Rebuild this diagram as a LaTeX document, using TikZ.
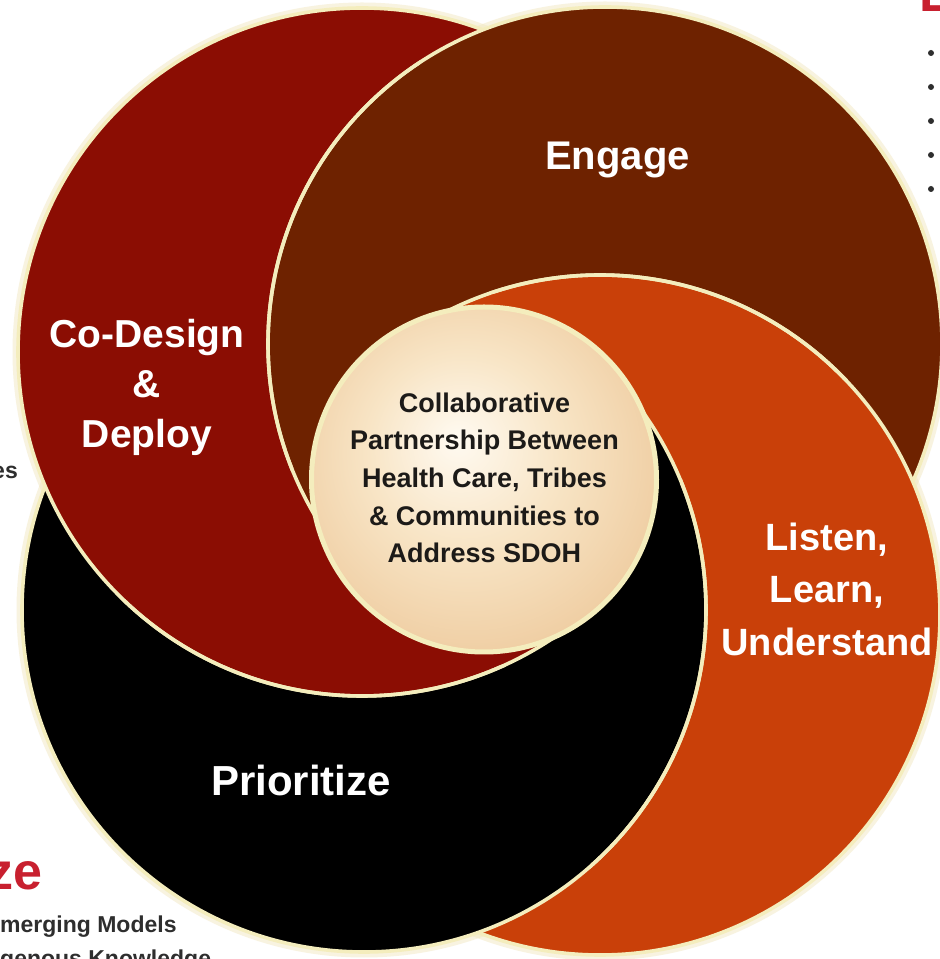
\documentclass[tikz,border=0pt]{standalone}
\usepackage{fontspec}
\setmainfont{Liberation Sans}
\definecolor{petalred}{HTML}{8B0D03}
\definecolor{petalbrown}{HTML}{6E2200}
\definecolor{petalorange}{HTML}{C94009}
\definecolor{petalblack}{HTML}{000000}
\definecolor{rimcream}{HTML}{F4EDBD}
\definecolor{glowcream}{HTML}{F1E6BC}
\definecolor{discA}{HTML}{FFFAF1}
\definecolor{discB}{HTML}{F8E5C6}
\definecolor{discC}{HTML}{EBC291}
\definecolor{discD}{HTML}{D69D5F}
\definecolor{disctextc}{HTML}{1C1A18}
\definecolor{sidegray}{HTML}{2E2E2E}
\definecolor{sidered}{HTML}{C8202F}
\pgfdeclareradialshading{discshade}{\pgfpoint{-4bp}{6bp}}{color(0bp)=(discA); color(14bp)=(discB); color(36bp)=(discC); color(50bp)=(discD)}
\def\cRed{(362,607) circle[radius=344]}
\def\cBrown{(605,615) circle[radius=337]}
\def\cOrange{(600,344) circle[radius=340]}
\def\cBlack{(364,349) circle[radius=342]}
\def\bigRect{(-200,-200) rectangle (1200,1200)}
\def\revRect{(-200,-200) -- (-200,1200) -- (1200,1200) -- (1200,-200) -- cycle}
\tikzset{
  rim/.style={draw=rimcream, line width=3.6pt},
  glow/.style={draw=glowcream, line width=11pt, opacity=0.45},
  petallabel/.style={text=white, inner sep=0pt, anchor=base},
  disctext/.style={text=disctextc, inner sep=0pt, anchor=base, font=\fontsize{27}{32}\selectfont\bfseries},
  sidetext/.style={text=sidegray, inner sep=0pt, font=\fontsize{23}{28}\selectfont\bfseries},
  sideredtext/.style={text=sidered, inner sep=0pt, font=\fontsize{52}{60}\selectfont\bfseries}
}
\begin{document}
\begin{tikzpicture}[x=1pt,y=1pt]
\useasboundingbox (0,0) rectangle (940,959);
\clip (0,0) rectangle (940,959);
\fill[white] (0,0) rectangle (940,959);

% outer glow
\draw[glow] \cRed; \draw[glow] \cBrown; \draw[glow] \cOrange; \draw[glow] \cBlack;

% black petal: black minus (red, left part)
\begin{scope}
  \clip \cBlack;
  \fill[petalblack, even odd rule] \bigRect \cRed;
  \fill[petalblack] (590,-200) rectangle (1200,1200);
\end{scope}
% orange petal: orange minus (black, lower part)
\begin{scope}
  \clip \cOrange;
  \fill[petalorange, even odd rule] \bigRect \cBlack;
  \fill[petalorange] (-200,579) rectangle (1200,1200);
\end{scope}
% brown petal: brown minus (orange, right part)
\begin{scope}
  \clip \cBrown;
  \fill[petalbrown, even odd rule] \bigRect \cOrange;
  \fill[petalbrown] (-200,-200) rectangle (420,1200);
\end{scope}
% red petal: red minus (brown, upper part)
\begin{scope}
  \clip \cRed;
  \fill[petalred, even odd rule] \bigRect \cBrown;
  \fill[petalred] (-200,-200) rectangle (1200,359);
\end{scope}

% cream rims on the visible arcs
\begin{scope}\clip \revRect \cBrown; \draw[rim] \cRed; \end{scope}
\begin{scope}\clip (-200,-200) rectangle (1200,359); \draw[rim] \cRed; \end{scope}
\begin{scope}\clip \revRect \cOrange; \draw[rim] \cBrown; \end{scope}
\begin{scope}\clip (-200,-200) rectangle (420,1200); \draw[rim] \cBrown; \end{scope}
\begin{scope}\clip \revRect \cBlack; \draw[rim] \cOrange; \end{scope}
\begin{scope}\clip (-200,579) rectangle (1200,1200); \draw[rim] \cOrange; \end{scope}
\begin{scope}\clip \revRect \cRed; \draw[rim] \cBlack; \end{scope}
\begin{scope}\clip (590,-200) rectangle (1200,1200); \draw[rim] \cBlack; \end{scope}

% centre disc
\shade[shading=discshade] (484,479.5) circle[radius=171];
\draw[rim, line width=5pt] (484,479.5) circle[radius=172.5];

% petal labels
\node[petallabel, font=\fontsize{40}{48}\selectfont\bfseries] (engage) at (617.5,789) {Engage};
\node[petallabel, font=\fontsize{39}{48}\selectfont\bfseries] (codesignA) at (147,611) {Co-Design};
\node[petallabel, font=\fontsize{39}{48}\selectfont\bfseries] (codesignB) at (147,561) {\&};
\node[petallabel, font=\fontsize{39}{48}\selectfont\bfseries] (codesignC) at (147,511) {Deploy};
\node[petallabel, font=\fontsize{42}{48}\selectfont\bfseries] (prioritize) at (301,163) {Prioritize};
\node[petallabel, font=\fontsize{38}{48}\selectfont\bfseries] (listenA) at (827,408) {Listen,};
\node[petallabel, font=\fontsize{38}{48}\selectfont\bfseries] (listenB) at (827,356) {Learn,};
\node[petallabel, font=\fontsize{38}{48}\selectfont\bfseries] (listenC) at (827,303) {Understand};

% centre text
\node[disctext] (ctA) at (484.5,546) {Collaborative};
\node[disctext] (ctB) at (484.5,509) {Partnership Between};
\node[disctext] (ctC) at (484.5,471) {Health Care, Tribes};
\node[disctext] (ctD) at (484.5,433) {\& Communities to};
\node[disctext] (ctE) at (484.5,396) {Address SDOH};

% side panel fragments
\node[sidetext, anchor=base east] (leftes) at (18,480) {es};
\node[sideredtext, anchor=base east] (leftze) at (43,69) {ze};
\node[sidetext, anchor=base west] (leftmodels) at (0,26) {merging Models};
\node[sidetext, anchor=base west] (leftknow) at (0,-7) {genous Knowledge};
\node[sideredtext, anchor=base west] (rightE) at (919,947) {E};
\foreach \yy in {906,872,838,804,770} { \fill[sidegray] (931,\yy) circle[radius=3]; }
\end{tikzpicture}
\end{document}
